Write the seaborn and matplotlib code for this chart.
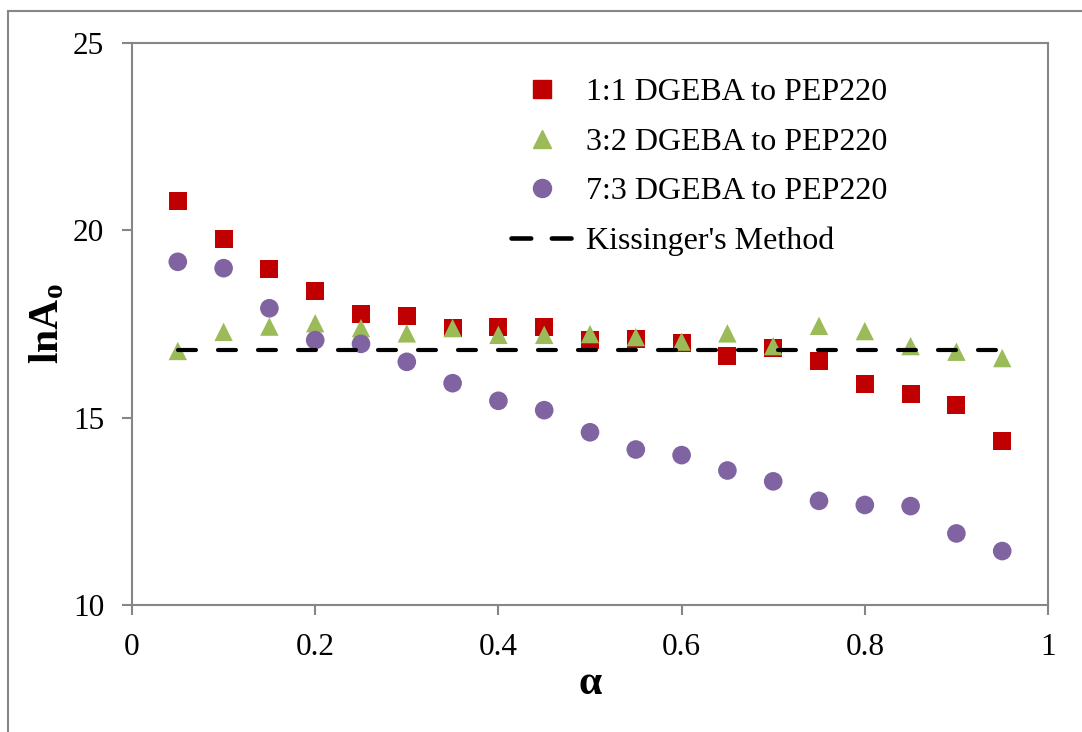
import matplotlib
matplotlib.use("Agg")
import matplotlib.pyplot as plt
from matplotlib.lines import Line2D
from matplotlib.patches import Rectangle
import seaborn as sns
import pandas as pd

alpha = [0.05, 0.10, 0.15, 0.20, 0.25, 0.30, 0.35, 0.40, 0.45, 0.50,
         0.55, 0.60, 0.65, 0.70, 0.75, 0.80, 0.85, 0.90, 0.95]
ratio_11 = [20.78, 19.77, 18.97, 18.38, 17.77, 17.71, 17.39, 17.42, 17.42, 17.07,
            17.10, 16.99, 16.65, 16.86, 16.51, 15.90, 15.63, 15.34, 14.38]
ratio_32 = [16.78, 17.29, 17.43, 17.52, 17.39, 17.25, 17.39, 17.21, 17.21, 17.23,
            17.15, 17.03, 17.25, 16.91, 17.45, 17.31, 16.91, 16.76, 16.59]
ratio_73 = [19.16, 18.99, 17.92, 17.07, 16.97, 16.49, 15.92, 15.45, 15.20, 14.61,
            14.15, 14.00, 13.59, 13.30, 12.78, 12.67, 12.64, 11.91, 11.44]
kissinger = [16.81] * len(alpha)

labels = ["1:1 DGEBA to PEP220", "3:2 DGEBA to PEP220", "7:3 DGEBA to PEP220",
          "Kissinger's Method"]
x_ticks = [0, 0.2, 0.4, 0.6, 0.8, 1]
x_ticklabels = ["0", "0.2", "0.4", "0.6", "0.8", "1"]
y_ticks = [10, 15, 20, 25]

sns.set_theme(style="white")
plt.rcParams["font.family"] = ["Liberation Serif", "DejaVu Serif"]
plt.rcParams["text.color"] = "black"
plt.rcParams["axes.labelcolor"] = "black"
plt.rcParams["mathtext.fontset"] = "custom"
plt.rcParams["mathtext.rm"] = "Liberation Serif"
plt.rcParams["mathtext.bf"] = "Liberation Serif:bold"
plt.rcParams["mathtext.it"] = "Liberation Serif:italic"

colors = ["#C00000", "#9BBB59", "#8064A2"]
markers = ["s", "^", "o"]
sizes = [165, 175, 180]
grey = "#868686"

fig = plt.figure(figsize=(10.82, 7.32), dpi=100)
ax = fig.add_axes([132 / 1082, 1 - 605 / 732, (1048 - 132) / 1082, (605 - 43) / 732])

series = [ratio_11, ratio_32, ratio_73]
for vals, c, m, s, lab in zip(series, colors, markers, sizes, labels):
    df = pd.DataFrame({"alpha": alpha, "lnA": vals})
    sns.scatterplot(data=df, x="alpha", y="lnA", ax=ax, color=c, marker=m, s=s,
                    edgecolor="none", linewidth=0, label=lab, zorder=3)

dfk = pd.DataFrame({"alpha": alpha, "lnA": kissinger})
sns.lineplot(data=dfk, x="alpha", y="lnA", ax=ax, color="black", linewidth=3.0,
             label=labels[3], zorder=4)
kline = ax.get_lines()[-1]
kline.set_dashes([4.3, 5.3])
kline.set_dash_capstyle("round")

ax.set_xlim(0, 1)
ax.set_ylim(10, 25)
ax.set_xticks(x_ticks)
ax.set_xticklabels(x_ticklabels)
ax.set_yticks(y_ticks)
ax.tick_params(axis="both", which="major", labelsize=22.5, length=7, width=1.5,
               color=grey, pad=13, labelcolor="black", direction="out",
               bottom=True, left=True)
for sp in ax.spines.values():
    sp.set_color(grey)
    sp.set_linewidth(1.5)
    sp.set_visible(True)

ax.set_xlabel("α", fontsize=30, fontweight="bold", labelpad=2, color="black")
ax.set_ylabel(r"$\mathbf{lnA_o}$", fontsize=30, labelpad=4, color="black")

handles = [
    Line2D([], [], linestyle="none", marker="s", color=colors[0], markersize=12.5),
    Line2D([], [], linestyle="none", marker="^", color=colors[1], markersize=13),
    Line2D([], [], linestyle="none", marker="o", color=colors[2], markersize=13),
    Line2D([], [], color="black", linewidth=3.3, dashes=[4.3, 4.5],
           dash_capstyle="round"),
]
leg = ax.legend(handles, labels, loc="upper left", frameon=False,
                bbox_to_anchor=(511 / 1082, 1 - 78 / 732),
                bbox_transform=fig.transFigure, fontsize=23,
                handlelength=1.95, handletextpad=0.4, labelspacing=0.63,
                borderpad=0, borderaxespad=0, labelcolor="black")

fig.add_artist(Rectangle((7.5 / 1082, -0.5), 2.0, 0.5 + (1 - 11 / 732),
                         transform=fig.transFigure, fill=False,
                         edgecolor=grey, linewidth=1.5, zorder=0))

fig.savefig("out.png", dpi=100)
